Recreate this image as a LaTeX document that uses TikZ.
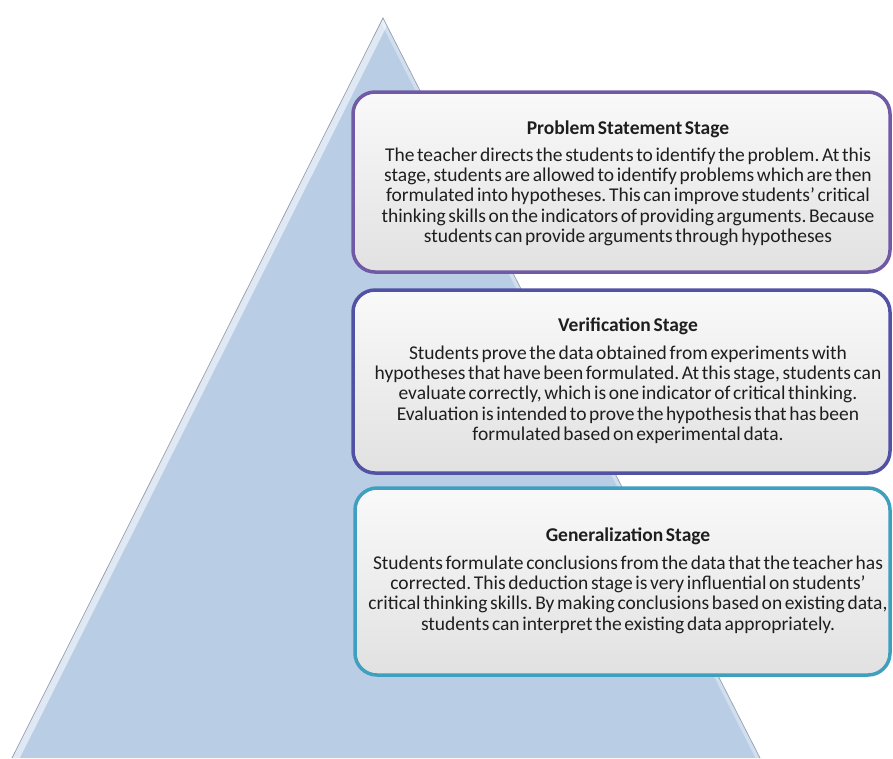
\documentclass[tikz,border=0pt]{standalone}
\usepackage{fontspec}
\setmainfont[WordSpace=0.6]{Carlito}
\frenchspacing
\definecolor{triblue}{RGB}{185,205,229}
\definecolor{triedge}{RGB}{150,160,175}
\definecolor{boxfill}{RGB}{236,236,236}
\definecolor{cpurple}{RGB}{112,90,165}
\definecolor{cindigo}{RGB}{82,82,165}
\definecolor{cteal}{RGB}{62,160,190}
\definecolor{txt}{RGB}{30,30,30}
\tikzset{
  stagebox/.style={rectangle, rounded corners=22pt, line width=3.5pt, inner sep=0pt,
    top color=white!70!boxfill, bottom color=boxfill!90!gray},
  stagetext/.style={anchor=north, align=center, inner sep=0pt, text=txt,
    font=\fontsize{19.5}{20.3}\selectfont\frenchspacing},
}
\begin{document}
\begin{tikzpicture}[x=1pt,y=-1pt]
\useasboundingbox (0,0) rectangle (893,758);
% pyramid
\coordinate (apex) at (383,18);
\coordinate (bl) at (12,758);
\coordinate (br) at (760,758);
\fill[triblue] (apex) -- (bl) -- (br) -- cycle;
\begin{scope}
  \clip (apex) -- (bl) -- (br) -- cycle;
  \draw[white, opacity=0.55, line width=14pt] (apex) -- (bl);
  \draw[white, opacity=0.35, line width=8pt] (apex) -- (br);
\end{scope}
\draw[triedge, line width=0.7pt] (bl) -- (apex) -- (br);
% boxes
\node[stagebox, draw=cpurple, minimum width=537pt, minimum height=180pt] (b1) at (621.5,182) {};
\node[stagebox, draw=cindigo, minimum width=537pt, minimum height=183pt] (b2) at (621.5,381.5) {};
\node[stagebox, draw=cteal, minimum width=535pt, minimum height=187pt] (b3) at (622.5,581.5) {};
% texts
\node[stagetext] (t1) at (628,121) {\textbf{Problem Statement Stage}\\[6pt]
The teacher directs the students to identify the problem. At this\\
stage, students are allowed to identify problems which are then\\
formulated into hypotheses. This can improve students' critical\\
thinking skills on the indicators of providing arguments. Because\\
students can provide arguments through hypotheses};
\node[stagetext] (t2) at (628,318) {\textbf{Verification Stage}\\[7pt]
Students prove the data obtained from experiments with\\
hypotheses that have been formulated. At this stage, students can\\
evaluate correctly, which is one indicator of critical thinking.\\
Evaluation is intended to prove the hypothesis that has been\\
formulated based on experimental data.};
\node[stagetext] (t3) at (628,528) {\textbf{Generalization Stage}\\[7pt]
Students formulate conclusions from the data that the teacher has\\
corrected. This deduction stage is very influential on students'\\
critical thinking skills. By making conclusions based on existing data,\\
students can interpret the existing data appropriately.};
\end{tikzpicture}
\end{document}
